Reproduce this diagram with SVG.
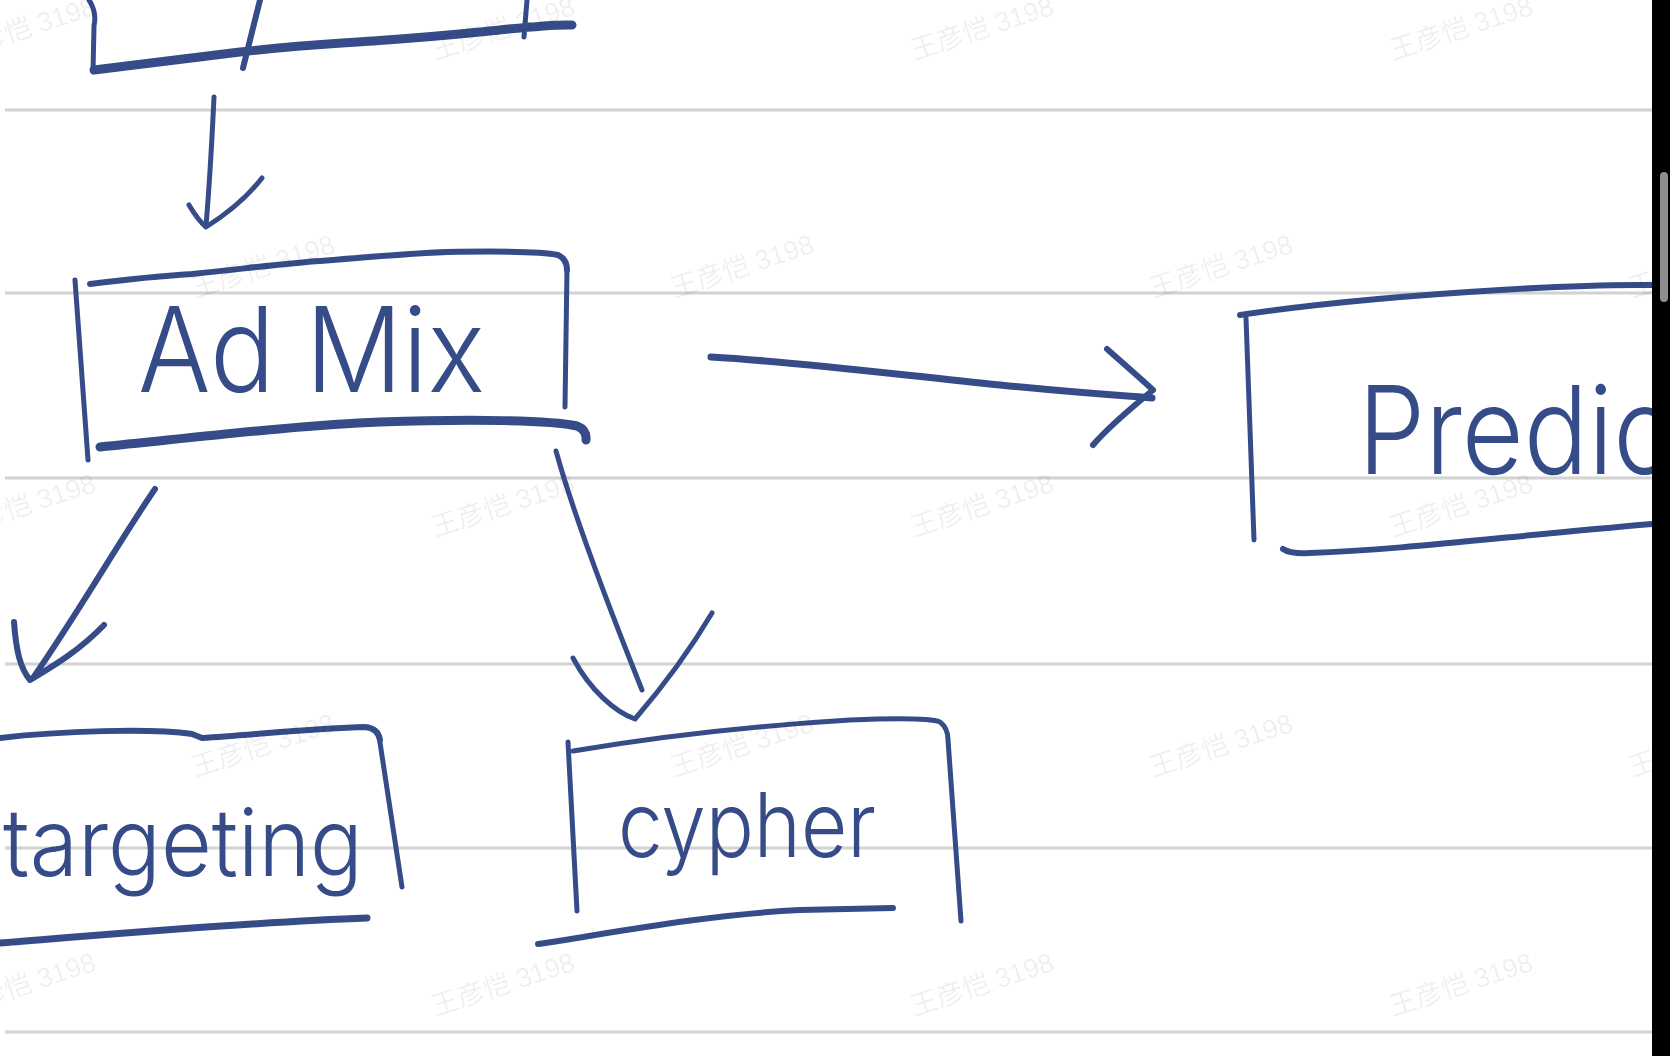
<svg xmlns="http://www.w3.org/2000/svg" width="1670" height="1056" viewBox="0 0 1670 1056">
<style>
.rule{stroke:#d2d2d2;stroke-width:3;fill:none}
.ink{stroke:#364c88;fill:none;stroke-linecap:round;stroke-linejoin:round}
.t{fill:#364c88;font-family:Inter,"Liberation Sans","DejaVu Sans",sans-serif;font-weight:300}
.wm{fill:#000;fill-opacity:0.07;font-family:"Liberation Sans","Noto Sans CJK SC",sans-serif;font-size:27px;text-anchor:middle}
</style>
<rect width="1670" height="1056" fill="#fff"/>
<g id="rules">
<line class="rule" x1="5" y1="110" x2="1652" y2="110"/>
<line class="rule" x1="5" y1="293" x2="1652" y2="293"/>
<line class="rule" x1="5" y1="478" x2="1652" y2="478"/>
<line class="rule" x1="5" y1="664" x2="1652" y2="664"/>
<line class="rule" x1="5" y1="848" x2="1652" y2="848"/>
<line class="rule" x1="5" y1="1032" x2="1652" y2="1032"/>
</g>
<g id="node-top">
<path class="ink" stroke-width="5" d="M89 0 Q97 12 94 26 L93 72"/>
<path class="ink" stroke-width="6" d="M260 0 L243 68"/>
<path class="ink" stroke-width="5" d="M527 0 L524 37"/>
<path class="ink" stroke-width="9" d="M94 70 L240 52 C300 45 330 44 373 41 S450 35 480 32 S550 24 572 25"/>
</g>
<g id="node-admix">
<path class="ink" stroke-width="6" d="M90 284 C130 279 160 276 192 274 C250 268 290 263 320 261 C380 256 420 253 447 252 C500 251 540 251 558 255 Q567 259 567 270"/>
<path class="ink" stroke-width="5" d="M567 268 L565 407"/>
<path class="ink" stroke-width="5" d="M75 280 L88 460"/>
<path class="ink" stroke-width="9" d="M100 447 C200 437 300 425 380 422 C470 419 550 420 577 426 Q587 430 586 440"/>
<text class="t" x="138" y="392" font-size="118" textLength="347" lengthAdjust="spacingAndGlyphs">Ad Mix</text>
</g>
<g id="node-predict">
<path class="ink" stroke-width="6" d="M1240 315 C1300 306 1400 296 1500 290 S1620 285 1652 285"/>
<path class="ink" stroke-width="5" d="M1246 318 L1254 540"/>
<path class="ink" stroke-width="6" d="M1283 549 Q1290 554 1310 553 C1400 550 1500 537 1652 524"/>
<text class="t" x="1358" y="474" font-size="122" textLength="315" lengthAdjust="spacingAndGlyphs">Predic</text>
</g>
<g id="node-targeting">
<path class="ink" stroke-width="6" d="M0 738 C60 731 150 728 192 734 L202 738 C260 734 320 728 365 727 Q378 728 380 740"/>
<path class="ink" stroke-width="5" d="M379 736 L402 887"/>
<path class="ink" stroke-width="7" d="M0 943 C100 935 250 922 367 918"/>
<text class="t" x="3" y="876" font-size="94" textLength="360" lengthAdjust="spacingAndGlyphs">targeting</text>
</g>
<g id="node-cypher">
<path class="ink" stroke-width="5" d="M573 751 C650 738 750 726 850 720 C900 718 930 718 940 722 Q948 728 948 740 L961 921"/>
<path class="ink" stroke-width="5" d="M568 742 L577 911"/>
<path class="ink" stroke-width="6" d="M538 944 C600 935 700 915 800 910 L893 908"/>
<text class="t" x="618" y="857" font-size="90" textLength="258" lengthAdjust="spacingAndGlyphs">cypher</text>
</g>
<g id="connectors">
<path class="ink" stroke-width="5" d="M214 97 C212 140 209 190 206 226"/>
<path class="ink" stroke-width="5" d="M189 205 C195 215 200 222 206 227 C225 215 245 200 262 178"/>
<path class="ink" stroke-width="7" d="M711 357 C800 362 900 375 1000 385 S1120 395 1152 398"/>
<path class="ink" stroke-width="6" d="M1107 349 C1125 365 1140 378 1153 390 C1135 405 1110 425 1093 445"/>
<path class="ink" stroke-width="6" d="M155 489 C120 540 80 610 33 678"/>
<path class="ink" stroke-width="6" d="M14 622 C16 650 20 668 30 680 C55 665 80 650 104 625"/>
<path class="ink" stroke-width="5" d="M556 451 C575 520 610 610 642 690"/>
<path class="ink" stroke-width="5" d="M573 658 C590 690 615 712 635 719 C660 690 690 650 712 613"/>
</g>
<g id="watermarks">
<text class="wm" transform="translate(27 37) rotate(-18)">王彦恺 3198</text>
<text class="wm" transform="translate(506 37) rotate(-18)">王彦恺 3198</text>
<text class="wm" transform="translate(985 37) rotate(-18)">王彦恺 3198</text>
<text class="wm" transform="translate(1464 37) rotate(-18)">王彦恺 3198</text>
<text class="wm" transform="translate(266 275) rotate(-18)">王彦恺 3198</text>
<text class="wm" transform="translate(745 275) rotate(-18)">王彦恺 3198</text>
<text class="wm" transform="translate(1224 275) rotate(-18)">王彦恺 3198</text>
<text class="wm" transform="translate(1703 275) rotate(-18)">王彦恺 3198</text>
<text class="wm" transform="translate(27 514) rotate(-18)">王彦恺 3198</text>
<text class="wm" transform="translate(506 514) rotate(-18)">王彦恺 3198</text>
<text class="wm" transform="translate(985 514) rotate(-18)">王彦恺 3198</text>
<text class="wm" transform="translate(1464 514) rotate(-18)">王彦恺 3198</text>
<text class="wm" transform="translate(266 754) rotate(-18)">王彦恺 3198</text>
<text class="wm" transform="translate(745 754) rotate(-18)">王彦恺 3198</text>
<text class="wm" transform="translate(1224 754) rotate(-18)">王彦恺 3198</text>
<text class="wm" transform="translate(1703 754) rotate(-18)">王彦恺 3198</text>
<text class="wm" transform="translate(27 993) rotate(-18)">王彦恺 3198</text>
<text class="wm" transform="translate(506 993) rotate(-18)">王彦恺 3198</text>
<text class="wm" transform="translate(985 993) rotate(-18)">王彦恺 3198</text>
<text class="wm" transform="translate(1464 993) rotate(-18)">王彦恺 3198</text>
</g>
<g id="scrollbar">
<rect x="1652" y="0" width="18" height="1056" fill="#000"/>
<rect x="1660" y="172" width="8" height="130" rx="4" fill="#8e8e8e"/>
</g>
</svg>
